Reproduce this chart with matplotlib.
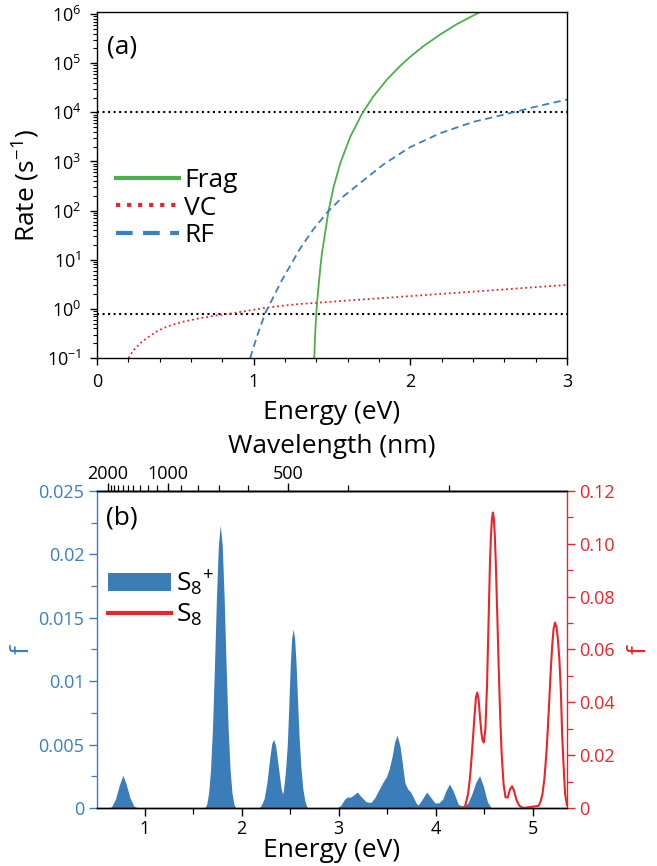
import numpy as np
import matplotlib
matplotlib.use('Agg')
import matplotlib.pyplot as plt
from matplotlib.ticker import MultipleLocator, FixedLocator, LogLocator, FuncFormatter, NullFormatter
from matplotlib.patches import Patch
from matplotlib.lines import Line2D

# ---- panel (a): rates vs internal energy ----
frag_energy = [1.387, 1.390, 1.393, 1.400, 1.407, 1.414, 1.425, 1.436, 1.456, 1.478,
               1.510, 1.553, 1.616, 1.691, 1.765, 1.851, 1.936, 1.999, 2.084, 2.191,
               2.297, 2.435, 2.47]
frag_rate = [0.1, 0.19, 0.32, 0.81, 1.6, 2.8, 6.6, 13.5, 35, 98,
             300, 920, 3150, 9300, 2.13e4, 4.65e4, 8.85e4, 1.35e5, 2.23e5, 3.85e5,
             6.24e5, 1.06e6, 1.2e6]

vc_energy = [0.202, 0.23, 0.276, 0.33, 0.383, 0.45, 0.553, 0.65, 0.744, 0.872, 1.0,
             1.085, 1.2, 1.297, 1.404, 1.6, 1.8, 2.0, 2.2, 2.4, 2.6, 2.8, 3.0]
vc_rate = [0.1, 0.14, 0.2, 0.27, 0.35, 0.44, 0.55, 0.64, 0.72, 0.82, 0.96,
           1.06, 1.17, 1.26, 1.33, 1.48, 1.64, 1.82, 2.02, 2.24, 2.49, 2.77, 3.07]

rf_energy = [0.978, 1.021, 1.074, 1.181, 1.297, 1.382, 1.478, 1.574, 1.680, 1.829,
             1.999, 2.191, 2.403, 2.574, 2.786, 2.989, 3.0]
rf_rate = [0.1, 0.275, 0.82, 3.87, 17, 42, 98.6, 196, 365, 873,
           1960, 3770, 6410, 8610, 1.27e4, 1.79e4, 1.82e4]

threshold_rates = [1e4, 0.8]

# ---- panel (b): oscillator strengths ----
s8p_energy = [0.51, 0.64, 0.66, 0.70, 0.74, 0.777, 0.81, 0.85, 0.89, 0.93,
              1.62, 1.64, 1.66, 1.68, 1.70, 1.72, 1.74, 1.76, 1.78, 1.80, 1.82, 1.84,
              1.86, 1.88, 1.90, 1.92, 1.94,
              2.18, 2.20, 2.23, 2.26, 2.29, 2.31, 2.33, 2.35, 2.37, 2.39, 2.405, 2.42,
              2.43, 2.45, 2.47, 2.485, 2.50, 2.515, 2.53, 2.545, 2.56, 2.575, 2.59, 2.61,
              2.63, 2.65, 2.67, 2.69,
              2.98, 3.02, 3.06, 3.09, 3.12, 3.15, 3.19, 3.23, 3.28, 3.33, 3.37, 3.41, 3.46, 3.49,
              3.52, 3.55, 3.575, 3.60, 3.63, 3.655, 3.68, 3.71, 3.74, 3.77, 3.80, 3.82, 3.86,
              3.905, 3.95, 3.99, 4.03, 4.07, 4.10, 4.14, 4.18, 4.23, 4.28, 4.33, 4.37, 4.41,
              4.45, 4.49, 4.53, 4.57, 5.35]
s8p_f = [0, 0, 0.0001, 0.0007, 0.0018, 0.00258, 0.0019, 0.0008, 0.00015, 0,
         0, 0.0003, 0.0012, 0.0031, 0.0064, 0.0112, 0.0165, 0.0207, 0.0223, 0.0207, 0.0165, 0.0112,
         0.0064, 0.0031, 0.0012, 0.0003, 0,
         0, 0.0002, 0.0007, 0.0020, 0.0040, 0.0051, 0.0054, 0.0049, 0.0037, 0.0025, 0.0016, 0.0011,
         0.0014, 0.0028, 0.0050, 0.0080, 0.0112, 0.0134, 0.0141, 0.0134, 0.0114, 0.0086, 0.0058, 0.0032,
         0.0015, 0.0006, 0.0001, 0,
         0, 0.0002, 0.0007, 0.00087, 0.00085, 0.0010, 0.00126, 0.0009, 0.0005, 0.00043, 0.0008, 0.0014, 0.0021, 0.00245,
         0.0031, 0.0041, 0.0052, 0.00574, 0.0049, 0.0035, 0.0020, 0.0015, 0.00126, 0.0008, 0.00035, 0.00025, 0.0007,
         0.00126, 0.0008, 0.0004, 0.0004, 0.0007, 0.0013, 0.0019, 0.0013, 0.0003, 0.0001, 0.0004, 0.0011, 0.0020,
         0.00255, 0.0017, 0.0005, 0, 0]

s8_energy = [4.25, 4.30, 4.33, 4.35, 4.368, 4.385, 4.40, 4.413, 4.426, 4.44,
             4.455, 4.47, 4.482, 4.494, 4.51, 4.527, 4.542, 4.557, 4.567, 4.577,
             4.587, 4.597, 4.607, 4.617, 4.632, 4.647, 4.662, 4.677, 4.697, 4.717,
             4.74, 4.765, 4.785, 4.805, 4.83, 4.86, 4.90,
             5.057, 5.077, 5.097, 5.117, 5.137, 5.152, 5.167, 5.182, 5.197, 5.212,
             5.227, 5.242, 5.257, 5.272, 5.287, 5.30, 5.315, 5.33, 5.35]
s8_f = [0, 0.0005, 0.005, 0.011, 0.0193, 0.028, 0.036, 0.042, 0.0437, 0.041,
        0.034, 0.028, 0.0255, 0.0248, 0.030, 0.047, 0.070, 0.093, 0.1029, 0.1095,
        0.1118, 0.1095, 0.1029, 0.0927, 0.0733, 0.0529, 0.0347, 0.0207, 0.0090, 0.0040,
        0.0040, 0.0072, 0.0082, 0.0065, 0.0030, 0.0008, 0,
        0.0008, 0.0022, 0.0052, 0.0109, 0.0202, 0.0296, 0.0404, 0.0514, 0.0611, 0.0678,
        0.0702, 0.0685, 0.0635, 0.0560, 0.0440, 0.0280, 0.0160, 0.0055, 0.0010]

wavelength_major = [2000, 1000, 500]
wavelength_minor = [300, 400, 600, 700, 800, 900, 1100, 1200, 1300, 1400,
                    1500, 1600, 1700, 1800, 1900]

GREEN = '#4cb04a'
RED = '#e6262a'
BLUE = '#3b7fc0'
BLUE_FILL = '#3a7db9'

LABEL_SIZE = 19
TICK_SIZE = 13

plt.rcParams['font.family'] = ['Open Sans', 'DejaVu Sans']
plt.rcParams['mathtext.fontset'] = 'custom'
plt.rcParams['mathtext.rm'] = 'Open Sans'
plt.rcParams['mathtext.it'] = 'Open Sans:italic'
plt.rcParams['mathtext.bf'] = 'Open Sans:bold'
plt.rcParams['axes.linewidth'] = 1.0


def ev_to_nm(x):
    x = np.asarray(x, dtype=float)
    with np.errstate(divide='ignore'):
        return 1240.0 / x


def short_num(v, pos):
    return '0' if abs(v) < 1e-12 else '%g' % v


fig = plt.figure(figsize=(6.57, 8.66), dpi=100)

# panel (a)
ax_a = fig.add_axes([0.1476, 0.5866, 0.7154, 0.3995])
ax_a.plot(frag_energy, frag_rate, color=GREEN, lw=1.3, label='Frag')
ax_a.plot(vc_energy, vc_rate, color=RED, lw=1.3, ls=':', label='VC')
ax_a.plot(rf_energy, rf_rate, color=BLUE, lw=1.3, ls=(0, (4, 2.5)), label='RF')
for r in threshold_rates:
    ax_a.axhline(r, color='black', lw=1.5, ls=':', zorder=1)

ax_a.set_yscale('log')
ax_a.set_xlim(0, 3)
ax_a.set_ylim(0.1, 1.1e6)
ax_a.xaxis.set_major_locator(MultipleLocator(1))
ax_a.xaxis.set_minor_locator(MultipleLocator(0.2))
ax_a.yaxis.set_major_locator(LogLocator(base=10, numticks=12))
ax_a.yaxis.set_minor_locator(LogLocator(base=10, subs=np.arange(2, 10), numticks=12))
ax_a.yaxis.set_minor_formatter(NullFormatter())
ax_a.tick_params(which='both', direction='out', top=False, right=False, labelsize=TICK_SIZE)
ax_a.tick_params(which='major', length=5, width=1, pad=6)
ax_a.tick_params(which='minor', length=3, width=0.8)
ax_a.set_xlabel('Energy (eV)', fontsize=LABEL_SIZE, labelpad=6.5)
ax_a.set_ylabel('Rate (s$^{-1}$)', fontsize=LABEL_SIZE, labelpad=4)
ax_a.text(0.022, 0.9, '(a)', transform=ax_a.transAxes, fontsize=LABEL_SIZE, va='center')

leg = ax_a.legend(loc='upper left', bbox_to_anchor=(0.04, 0.549), frameon=False,
                  fontsize=LABEL_SIZE, handlelength=2.4, handletextpad=0.2,
                  labelspacing=0.1, borderpad=0, borderaxespad=0)
for h in leg.legend_handles:
    h.set_linewidth(3)

# panel (b)
ax_b = fig.add_axes([0.1476, 0.0670, 0.7154, 0.3661])
ax_b.fill_between(s8p_energy, s8p_f, 0, color=BLUE_FILL, lw=0)
ax_b.set_xlim(0.51, 5.35)
ax_b.set_ylim(0, 0.025)
ax_b.xaxis.set_major_locator(MultipleLocator(1))
ax_b.xaxis.set_minor_locator(MultipleLocator(0.5))
ax_b.yaxis.set_major_locator(MultipleLocator(0.005))
ax_b.yaxis.set_minor_locator(MultipleLocator(0.0025))
ax_b.yaxis.set_major_formatter(FuncFormatter(short_num))
ax_b.tick_params(which='both', direction='out', top=False, right=False, labelsize=TICK_SIZE)
ax_b.tick_params(which='major', length=6, width=1, pad=3)
ax_b.tick_params(which='minor', length=4, width=0.9)
ax_b.tick_params(axis='y', which='both', colors=BLUE)
ax_b.spines['left'].set_color(BLUE)
ax_b.spines['right'].set_visible(False)
ax_b.set_xlabel('Energy (eV)', fontsize=LABEL_SIZE, labelpad=0)
ax_b.set_ylabel('f', fontsize=LABEL_SIZE, color=BLUE, labelpad=3)
ax_b.text(0.02, 0.915, '(b)', transform=ax_b.transAxes, fontsize=LABEL_SIZE, va='center')

ax_r = ax_b.twinx()
ax_r.plot(s8_energy, s8_f, color=RED, lw=1.5)
ax_r.set_ylim(0, 0.12)
ax_r.yaxis.set_major_locator(MultipleLocator(0.02))
ax_r.yaxis.set_minor_locator(MultipleLocator(0.01))
ax_r.yaxis.set_major_formatter(FuncFormatter(lambda v, p: '0' if abs(v) < 1e-12 else '%.2f' % v))
ax_r.tick_params(which='both', direction='out', colors=RED, labelsize=TICK_SIZE)
ax_r.tick_params(which='major', length=6, width=1, pad=3)
ax_r.tick_params(which='minor', length=4, width=0.9)
ax_r.spines['right'].set_color(RED)
ax_r.spines['left'].set_visible(False)
ax_r.set_ylabel('f', fontsize=LABEL_SIZE, color=RED, labelpad=8)

top = ax_b.secondary_xaxis('top', functions=(ev_to_nm, ev_to_nm))
top.xaxis.set_major_locator(FixedLocator(wavelength_major))
top.xaxis.set_minor_locator(FixedLocator(wavelength_minor))
top.tick_params(which='both', direction='out', labelsize=TICK_SIZE)
top.tick_params(which='major', length=6, width=1, pad=0)
top.tick_params(which='minor', length=4, width=0.9)
top.set_xlabel('Wavelength (nm)', fontsize=LABEL_SIZE, labelpad=8)

handles = [Patch(facecolor=BLUE_FILL, edgecolor='none'), Line2D([], [], color=RED, lw=3)]
ax_r.legend(handles, ['S$_{8}$$^{+}$', 'S$_{8}$'], loc='upper left', bbox_to_anchor=(0.023, 0.755),
            frameon=False, fontsize=LABEL_SIZE, handlelength=2.4, handleheight=0.7,
            handletextpad=0.2, labelspacing=0.15, borderpad=0, borderaxespad=0)

fig.savefig('out.png', dpi=100)
